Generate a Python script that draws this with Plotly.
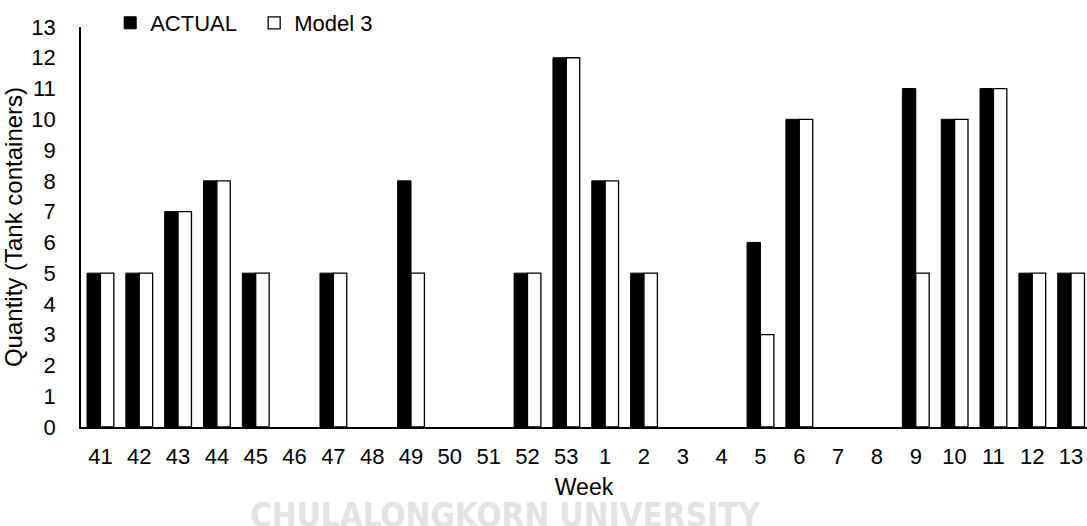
import plotly.graph_objects as go

weeks = ["41", "42", "43", "44", "45", "46", "47", "48", "49", "50", "51", "52", "53",
         "1", "2", "3", "4", "5", "6", "7", "8", "9", "10", "11", "12", "13"]
actual = [5, 5, 7, 8, 5, 0, 5, 0, 8, 0, 0, 5, 12,
          8, 5, 0, 0, 6, 10, 0, 0, 11, 10, 11, 5, 5]
model3 = [5, 5, 7, 8, 5, 0, 5, 0, 5, 0, 0, 5, 12,
          8, 5, 0, 0, 3, 10, 0, 0, 5, 10, 11, 5, 5]
y_ticks = list(range(0, 14))

FONT = "Liberation Sans, Arial, sans-serif"

fig = go.Figure()
fig.add_trace(go.Bar(x=weeks, y=actual, name="ACTUAL",
                     marker=dict(color="black",
                                 line=dict(color="black", width=[1 if v else 0 for v in actual]))))
fig.add_trace(go.Bar(x=weeks, y=model3, name="Model 3",
                     marker=dict(color="white",
                                 line=dict(color="black", width=[1.3 if v else 0 for v in model3]))))

fig.update_layout(
    width=1087, height=526,
    margin=dict(l=81, r=0, t=27, b=99),
    paper_bgcolor="white", plot_bgcolor="white",
    barmode="group", bargap=0.31, bargroupgap=0,
    font=dict(family=FONT, size=22, color="black"),
    showlegend=True,
    legend=dict(orientation="h", x=0.029, xanchor="left", y=1.01, yanchor="middle",
                font=dict(size=22), bgcolor="rgba(0,0,0,0)",
                itemwidth=30, entrywidth=99, entrywidthmode="pixels"),
    xaxis=dict(type="category", range=[-0.5, 25.41], showline=True, linecolor="black",
               linewidth=1.5, showgrid=False, ticks="", ticklabelstandoff=9,
               tickfont=dict(size=22),
               title=dict(text="Week", font=dict(size=23), standoff=11)),
    yaxis=dict(range=[0, 13], tickvals=y_ticks, showline=True, linecolor="black",
               linewidth=1.5, showgrid=False, zeroline=False, ticks="", ticklabelstandoff=19,
               tickfont=dict(size=22),
               title=dict(text="Quantity (Tank containers)", font=dict(size=24), standoff=3)),
)

fig.add_annotation(text="<b>CHULALONGKORN UNIVERSITY</b>", xref="paper", yref="paper",
                   x=(505 - 81) / 1006, y=-0.1675, xanchor="center", yanchor="top", showarrow=False,
                   font=dict(family="DejaVu Sans Condensed, DejaVu Sans", size=33, color="#e3e3e3"))

fig.write_html("out.html")
